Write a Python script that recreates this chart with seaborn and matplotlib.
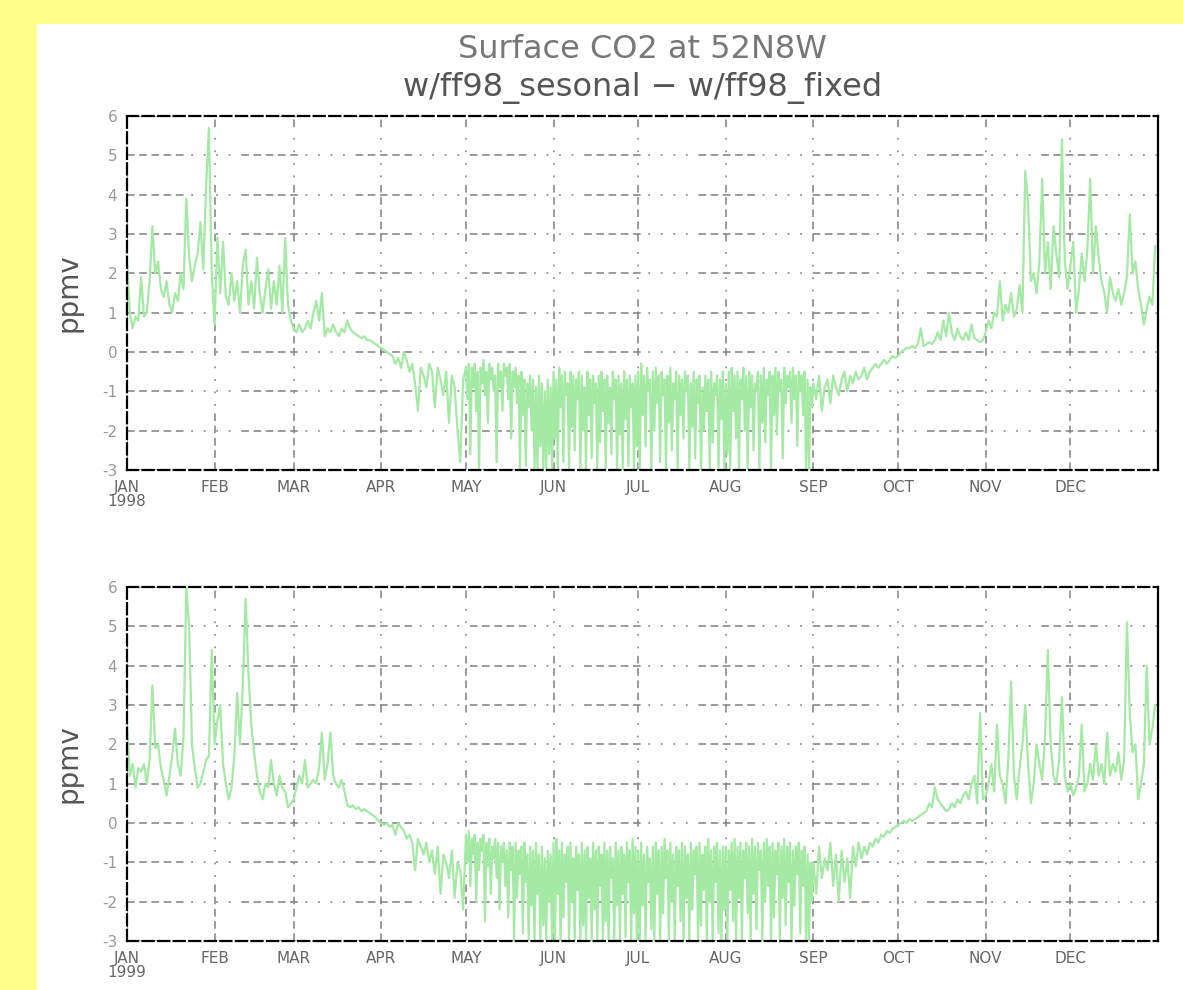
import matplotlib
matplotlib.use("Agg")
import matplotlib.pyplot as plt
import matplotlib.dates as mdates
from matplotlib.patches import Rectangle
import numpy as np
import pandas as pd
import seaborn as sns

# Surface CO2 difference (ppmv), ff98 seasonal minus ff98 fixed, 52N 8W
# values, month by month (daily; twice daily May-Aug
# where the trace swings fast)
jan98 = [2.3, 1.0, 0.6, 0.9, 0.8, 1.9, 0.9, 1.0, 1.8, 3.2, 2.0, 2.3, 1.6, 1.4, 1.8, 1.2,
         1.0, 1.5, 1.3, 2.0, 1.6, 3.9, 2.4, 1.8, 2.2, 2.5, 3.3, 2.1, 4.2, 5.7, 2.0]
feb98 = [0.7, 2.9, 1.5, 2.8, 1.4, 1.2, 2.0, 1.3, 1.8, 1.0, 2.2, 2.6, 1.2, 1.8, 1.1, 2.4,
         1.5, 1.0, 1.6, 2.1, 1.1, 1.8, 1.2, 2.2, 1.0, 2.9, 1.2, 0.8]
mar98 = [0.6, 0.5, 0.7, 0.5, 0.6, 0.8, 0.6, 1.0, 1.3, 0.8, 1.5, 0.4, 0.6, 0.5, 0.7, 0.5,
         0.4, 0.6, 0.5, 0.8, 0.6, 0.5, 0.45, 0.4, 0.35, 0.4, 0.3, 0.3, 0.25, 0.2, 0.15]
apr98 = [0.1, 0.05, 0.0, -0.05, -0.1, -0.3, -0.15, -0.4, 0.0, -0.2, -0.5, -0.3, -0.8, -1.5,
         -0.4, -0.6, -0.9, -0.3, -0.5, -1.4, -0.4, -0.7, -1.1, -0.5, -1.8, -0.6, -0.9, -2.0,
         -2.8, -0.7]
may98 = [-0.4, -1.2, -0.3, -2.6, -0.4, -0.9, -0.3, -1.5, -0.5, -3.0, -0.4, -0.8, -0.2, -1.1,
         -0.5, -1.8, -0.3, -0.7, -0.4, -1.0, -0.6, -2.8, -0.3, -0.9, -0.5, -1.5, -0.3, -0.6,
         -0.4, -1.2, -0.3, -2.2, -0.5, -0.9, -0.4, -1.3, -0.6, -3.0, -0.5, -1.6, -0.7, -2.9,
         -0.8, -1.4, -0.6, -2.0, -0.7, -3.0, -0.9, -3.0, -0.6, -2.4, -0.8, -3.0, -1.0, -3.0,
         -0.7, -2.6, -0.9, -3.0]
jun98 = [-0.5, -2.2, -0.7, -3.0, -0.4, -1.4, -0.6, -2.8, -0.5, -1.1, -0.8, -3.0, -0.5, -1.9,
         -0.6, -2.5, -0.7, -1.2, -0.5, -3.0, -0.6, -2.0, -0.9, -3.0, -0.5, -1.6, -0.7, -2.7,
         -0.6, -1.3, -0.8, -3.0, -0.6, -2.3, -0.5, -1.5, -0.7, -3.0, -0.6, -1.8, -0.9, -2.6,
         -0.5, -1.2, -0.7, -3.0, -0.6, -2.1, -0.8, -3.0, -0.5, -1.7, -0.7, -2.9, -0.6, -1.4,
         -0.8, -3.0, -0.6, -2.4]
jul98 = [-0.5, -3.0, -0.3, -1.6, -0.6, -2.4, -0.4, -1.0, -0.7, -3.0, -0.5, -2.0, -0.4, -1.3,
         -0.6, -2.8, -0.5, -1.1, -0.7, -3.0, -0.6, -1.8, -0.4, -2.5, -0.8, -1.2, -0.5, -3.0,
         -0.6, -1.6, -0.7, -2.2, -0.5, -1.0, -0.6, -3.0, -0.8, -1.9, -0.5, -2.7, -0.7, -1.3,
         -0.6, -3.0, -0.9, -2.0, -0.6, -1.5, -0.7, -3.0, -0.5, -2.3, -0.8, -1.1, -0.6, -3.0,
         -0.7, -1.7, -0.5, -3.0]
aug98 = [-0.8, -2.6, -0.5, -3.0, -0.4, -1.5, -0.6, -2.2, -0.5, -3.0, -0.7, -1.2, -0.4, -2.0,
         -0.6, -3.0, -0.5, -1.4, -0.6, -2.5, -0.8, -1.0, -0.5, -3.0, -0.6, -1.8, -0.4, -2.3,
         -0.7, -1.1, -0.5, -3.0, -0.6, -1.6, -0.4, -2.1, -0.5, -1.0, -0.7, -2.7, -0.4, -1.3,
         -0.6, -0.9, -0.5, -1.8, -0.4, -1.2, -0.6, -2.4, -0.5, -1.0, -0.6, -1.6, -0.5, -3.0,
         -0.7, -3.0, -0.9, -1.4]
sep98 = [-0.8, -1.2, -0.6, -1.5, -0.9, -0.7, -1.3, -0.6, -0.9, -1.1, -0.7, -0.5, -1.0, -0.6,
         -0.8, -0.5, -0.7, -0.6, -0.4, -0.7, -0.5, -0.4, -0.3, -0.4, -0.3, -0.2, -0.3, -0.2,
         -0.1, -0.15]
oct98 = [-0.1, 0.0, 0.05, 0.1, 0.1, 0.15, 0.1, 0.2, 0.6, 0.15, 0.2, 0.25, 0.2, 0.3, 0.5, 0.3,
         0.8, 0.4, 1.0, 0.5, 0.3, 0.6, 0.4, 0.3, 0.5, 0.3, 0.7, 0.35, 0.3, 0.25, 0.3]
nov98 = [0.5, 0.8, 0.6, 1.0, 0.9, 1.8, 0.8, 1.2, 1.0, 1.5, 0.9, 1.1, 1.7, 1.0, 4.6, 3.8,
         1.8, 2.0, 1.5, 2.3, 4.4, 2.0, 2.8, 1.6, 3.2, 2.5, 1.9, 5.4, 2.3, 1.6]
dec98 = [2.2, 2.8, 1.0, 1.6, 2.5, 1.8, 2.6, 4.4, 2.0, 3.2, 2.4, 1.8, 1.5, 1.0, 1.9, 1.5,
         1.3, 1.6, 1.2, 1.5, 1.9, 3.5, 2.0, 2.3, 1.6, 1.2, 0.7, 1.1, 1.4, 1.2, 2.7]

jan99 = [2.5, 1.2, 1.5, 0.9, 1.4, 1.3, 1.5, 1.0, 1.6, 3.5, 1.9, 2.0, 1.4, 1.1, 0.7, 1.2,
         1.7, 2.4, 1.5, 1.2, 2.2, 6.0, 5.0, 2.0, 1.4, 0.9, 1.0, 1.3, 1.6, 1.7, 4.4]
feb99 = [2.0, 2.6, 3.0, 1.5, 1.0, 0.6, 0.9, 1.7, 3.3, 2.0, 3.5, 5.7, 3.8, 2.5, 1.8, 1.2,
         0.8, 0.6, 1.0, 0.9, 1.6, 1.0, 0.7, 1.2, 0.9, 0.8, 0.4, 0.5]
mar99 = [0.6, 0.9, 1.2, 1.0, 1.6, 0.9, 1.0, 1.1, 1.0, 1.4, 2.3, 1.1, 1.5, 2.3, 1.2, 1.0,
         0.9, 1.1, 0.8, 0.45, 0.4, 0.45, 0.35, 0.4, 0.3, 0.35, 0.3, 0.25, 0.2, 0.15, 0.05]
apr99 = [0.0, -0.05, 0.0, -0.1, -0.05, -0.3, 0.0, -0.1, -0.2, -0.4, -0.3, -0.5, -1.2, -0.4,
         -0.6, -0.8, -0.5, -1.0, -0.7, -1.3, -0.6, -1.8, -0.8, -1.0, -1.4, -0.7, -1.9, -1.0,
         -1.2, -2.2]
may99 = [-0.3, -1.0, -0.2, -1.6, -0.4, -0.8, -0.3, -2.0, -0.5, -1.2, -0.4, -0.7, -0.3, -2.5,
         -0.5, -1.1, -0.4, -1.8, -0.6, -0.9, -0.4, -1.4, -0.5, -2.2, -0.6, -1.0, -0.5, -1.6,
         -0.7, -2.4, -0.5, -1.2, -0.6, -3.0, -0.5, -1.9, -0.7, -1.3, -0.6, -2.8, -0.5, -1.5,
         -0.8, -3.0, -0.6, -2.1, -0.7, -3.0, -0.5, -1.8, -0.8, -3.0, -0.6, -2.6, -0.9, -3.0,
         -0.7, -2.0, -0.8, -3.0]
jun99 = [-0.5, -3.0, -0.4, -1.8, -0.7, -3.0, -0.5, -2.4, -0.8, -1.5, -0.6, -3.0, -0.5, -2.0,
         -0.9, -3.0, -0.6, -1.7, -0.8, -3.0, -0.5, -2.6, -0.7, -3.0, -0.6, -1.9, -0.9, -3.0,
         -0.5, -2.2, -0.7, -3.0, -0.6, -1.6, -0.8, -3.0, -0.5, -2.5, -0.7, -3.0, -0.6, -1.4,
         -0.9, -3.0, -0.5, -2.1, -0.7, -3.0, -0.6, -1.8, -0.8, -2.9, -0.5, -1.5, -0.7, -3.0,
         -0.4, -2.3, -0.6, -3.0]
jul99 = [-0.7, -3.0, -0.5, -2.1, -0.8, -3.0, -0.6, -1.5, -0.9, -2.7, -0.6, -3.0, -0.5, -1.8,
         -0.7, -3.0, -0.6, -2.3, -0.4, -1.4, -0.7, -3.0, -0.5, -2.0, -0.8, -3.0, -0.6, -1.6,
         -0.7, -2.5, -0.5, -3.0, -0.6, -1.9, -0.8, -3.0, -0.5, -2.2, -0.7, -1.3, -0.6, -3.0,
         -0.5, -2.6, -0.8, -1.7, -0.6, -3.0, -0.4, -2.0, -0.7, -3.0, -0.6, -1.5, -0.5, -2.8,
         -0.7, -3.0, -0.6, -2.2]
aug99 = [-0.6, -3.0, -0.7, -1.7, -0.5, -2.5, -0.4, -3.0, -0.6, -1.9, -0.5, -3.0, -0.7, -1.4,
         -0.5, -2.3, -0.6, -3.0, -0.4, -1.8, -0.6, -2.7, -0.5, -1.2, -0.7, -3.0, -0.5, -2.0,
         -0.4, -1.6, -0.6, -3.0, -0.5, -2.4, -0.7, -1.3, -0.5, -3.0, -0.6, -1.9, -0.4, -2.6,
         -0.6, -1.5, -0.5, -3.0, -0.7, -2.1, -0.6, -1.3, -0.5, -2.8, -0.7, -1.6, -0.6, -3.0,
         -0.8, -3.0, -1.0, -2.0]
sep99 = [-1.0, -1.8, -0.6, -1.4, -0.9, -1.2, -0.5, -1.6, -0.8, -2.0, -0.7, -1.5, -0.9, -1.9,
         -0.6, -1.1, -0.5, -0.9, -0.6, -0.8, -0.5, -0.6, -0.4, -0.5, -0.3, -0.35, -0.2, -0.25,
         -0.15, -0.1]
oct99 = [-0.05, 0.0, 0.05, 0.0, 0.1, 0.05, 0.1, 0.15, 0.2, 0.25, 0.3, 0.5, 0.4, 0.9, 0.6,
         0.5, 0.4, 0.3, 0.35, 0.5, 0.4, 0.6, 0.5, 0.7, 0.8, 0.6, 1.0, 1.2, 0.5, 2.8, 0.6]
nov99 = [0.7, 1.0, 1.5, 0.8, 2.5, 1.2, 1.0, 0.5, 1.6, 3.6, 1.2, 0.6, 1.4, 2.0, 3.0, 1.5,
         0.5, 1.0, 2.0, 1.5, 1.1, 2.2, 4.4, 2.0, 1.2, 1.0, 1.6, 3.2, 1.2, 0.8]
dec99 = [1.0, 0.7, 0.9, 1.2, 2.5, 0.8, 1.0, 1.5, 1.1, 2.0, 1.2, 1.5, 1.0, 2.3, 1.2, 1.5,
         1.3, 1.8, 1.1, 1.6, 5.1, 2.8, 1.8, 2.0, 0.6, 1.0, 1.5, 4.0, 2.0, 2.4, 3.0]

months_1998 = [jan98, feb98, mar98, apr98, may98, jun98, jul98, aug98, sep98, oct98, nov98, dec98]
months_1999 = [jan99, feb99, mar99, apr99, may99, jun99, jul99, aug99, sep99, oct99, nov99, dec99]
month_labels = ["JAN", "FEB", "MAR", "APR", "MAY", "JUN",
                "JUL", "AUG", "SEP", "OCT", "NOV", "DEC"]
y_ticks = [-3, -2, -1, 0, 1, 2, 3, 4, 5, 6]

LINE_GREEN = "#a4eaa4"
GRID_STYLE = (0, (5, 3, 5, 3, 5, 3, 5, 3, 5, 5, 1.2, 7, 1.2, 7, 1.2, 7, 1.2, 7))


def month_frame(year, month_lists):
    """Spread each month's readings evenly over that month's days."""
    parts = []
    for m, vals in enumerate(month_lists, start=1):
        start = pd.Timestamp(year, m, 1)
        n = len(vals)
        offs = np.arange(n) * start.days_in_month / n
        parts.append(pd.DataFrame({
            "time": start + pd.to_timedelta(offs, unit="D"),
            "ppmv": vals,
        }))
    return pd.concat(parts, ignore_index=True)


sns.set_theme(style="white")
plt.rcParams["font.family"] = ["DejaVu Sans"]

W, H = 1183, 990
fig = plt.figure(figsize=(W / 100, H / 100), dpi=100, facecolor="#ffff8a")
fig.patches.append(Rectangle((37 / W, 0), 1 - 37 / W, 1 - 24 / H,
                             transform=fig.transFigure, facecolor="white",
                             edgecolor="none", zorder=-10))

left, width = 127 / W, (1158 - 127) / W
panels = [
    (1998, months_1998, 1 - 470 / H),
    (1999, months_1999, 1 - 941 / H),
]

for year, month_lists, bottom in panels:
    ax = fig.add_axes([left, bottom, width, 354 / H])
    ax.set_zorder(5)
    df = month_frame(year, month_lists)
    sns.lineplot(data=df, x="time", y="ppmv", ax=ax, color=LINE_GREEN,
                 lw=1.6, estimator=None, sort=False)

    ax.set_xlim(pd.Timestamp(year, 1, 1), pd.Timestamp(year + 1, 1, 1))
    ax.set_ylim(-3, 6)

    ticks = [mdates.date2num(pd.Timestamp(year, m, 1)) for m in range(1, 13)]
    labels = list(month_labels)
    labels[0] = f"JAN\n{year}"
    ax.set_xticks(ticks)
    ax.set_xticklabels(labels, fontsize=11, color="#666666", linespacing=0.95)
    ax.set_yticks(y_ticks)
    ax.set_yticklabels([str(v) for v in y_ticks], fontsize=11, color="#999999")
    ax.tick_params(axis="both", which="major", length=4, width=1.2,
                   color="black", direction="out", pad=3)

    ax.set_xlabel("")
    ax.set_ylabel("ppmv", fontsize=20, color="#555555", labelpad=14)

    ax.grid(True, color="#808080", lw=1.1, linestyle=GRID_STYLE)
    ax.set_axisbelow(True)

    for side in ["left", "top", "bottom"]:
        ax.spines[side].set_color("black")
        ax.spines[side].set_linewidth(1.6)
        ax.spines[side].set_linestyle((0, (5, 2)))
    ax.spines["right"].set_color("black")
    ax.spines["right"].set_linewidth(1.6)

cx = (127 + 1158) / 2 / W
fig.text(cx, 1 - 50 / H, "Surface CO2 at 52N8W", ha="center", va="center",
         fontsize=23, color="#777777")
fig.text(cx, 1 - 88 / H, "w/ff98_sesonal \u2212 w/ff98_fixed", ha="center",
         va="center", fontsize=23, color="#555555")

fig.savefig("out.png", dpi=100, facecolor=fig.get_facecolor())
